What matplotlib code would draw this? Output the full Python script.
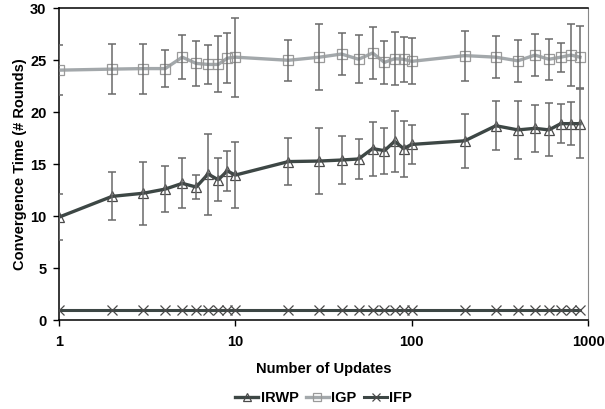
import numpy as np
import matplotlib
matplotlib.use("Agg")
import matplotlib.pyplot as plt
from matplotlib.ticker import FixedLocator, NullLocator

plt.rcParams['font.family'] = ['Liberation Sans', 'DejaVu Sans']
plt.rcParams['font.weight'] = 'bold'

updates = [1, 2, 3, 4, 5, 6, 7, 8, 9, 10, 20, 30, 40, 50, 60, 70, 80, 90, 100,
           200, 300, 400, 500, 600, 700, 800, 900]

irwp = [9.9, 11.9, 12.2, 12.6, 13.15, 12.8, 14.05, 13.5, 14.35, 13.95, 15.25,
        15.3, 15.4, 15.5, 16.5, 16.3, 17.2, 16.5, 16.9, 17.25, 18.7, 18.3,
        18.45, 18.3, 18.9, 18.9, 18.9]
irwp_err = [2.2, 2.3, 3.05, 2.25, 2.4, 1.2, 3.9, 2.05, 1.95, 3.2, 2.25, 3.2,
            2.3, 1.95, 2.6, 2.2, 2.95, 2.7, 1.9, 2.6, 2.35, 2.8, 2.25, 2.55,
            1.85, 2.1, 3.35]

igp = [24.05, 24.15, 24.2, 24.2, 25.3, 24.7, 24.6, 24.6, 25.2, 25.3, 25.0,
       25.3, 25.6, 25.1, 25.7, 24.8, 25.15, 25.1, 24.9, 25.45, 25.3, 24.95,
       25.5, 25.1, 25.3, 25.5, 25.3]
igp_err = [2.4, 2.4, 2.4, 1.8, 2.1, 2.2, 1.85, 2.7, 2.4, 3.8, 2.0, 3.2, 2.05,
           2.3, 2.5, 2.1, 2.55, 2.15, 2.2, 2.4, 2.0, 2.0, 2.05, 1.95, 1.4,
           3.0, 3.0]

ifp = [1.0] * len(updates)

fig = plt.figure(figsize=(6.05, 4.09), dpi=100)
ax = fig.add_axes([0.0975, 0.2176, 0.8745, 0.762])

dark = '#3d4745'
light = '#a3a8ab'
errc = '#6a6a6a'

ax.errorbar(updates, igp, yerr=igp_err, fmt='none', ecolor=errc,
            elinewidth=1.1, capsize=3, capthick=1.1, zorder=4)
ax.errorbar(updates, irwp, yerr=irwp_err, fmt='none', ecolor=errc,
            elinewidth=1.1, capsize=3, capthick=1.1, zorder=4)

ax.plot(updates, irwp, color=dark, lw=2.4, marker='^', ms=7,
        mfc='none', mec='#4a4a4a', mew=0.9, label='IRWP', zorder=3)
ax.plot(updates, igp, color=light, lw=2.4, marker='s', ms=7,
        mfc='none', mec='#9a9a9a', mew=0.9, label='IGP', zorder=3)
ax.plot(updates, ifp, color=dark, lw=2.2, marker='x', ms=7,
        mec='#4a4a4a', mew=0.9, label='IFP', zorder=3)

ax.set_xscale('log')
ax.set_xlim(1, 1000)
ax.set_ylim(0, 30)
ax.xaxis.set_major_locator(FixedLocator([1, 10, 100, 1000]))
ax.xaxis.set_minor_locator(NullLocator())
ax.set_xticklabels(['1', '10', '100', '1000'])
ax.set_yticks([0, 5, 10, 15, 20, 25, 30])

ax.tick_params(axis='both', direction='out', length=4, width=1,
               labelsize=10.5, pad=5)
ax.tick_params(axis='x', pad=7)

for s in ['left', 'bottom', 'top']:
    ax.spines[s].set_color('black')
    ax.spines[s].set_linewidth(1.1)
ax.spines['right'].set_color('#888888')
ax.spines['right'].set_linewidth(0.8)

ax.set_xlabel('Number of Updates', fontsize=10.5, fontweight='bold', labelpad=9)
ax.set_ylabel('Convergence Time (# Rounds)', fontsize=10.5, fontweight='bold',
              labelpad=2)

leg = fig.legend(loc='center', bbox_to_anchor=(0.535, 0.027), ncol=3,
                 frameon=False, fontsize=10.5, handlelength=1.6,
                 handletextpad=0.15, columnspacing=0.5, markerscale=0.8)

fig.savefig('out.png', dpi=100)
